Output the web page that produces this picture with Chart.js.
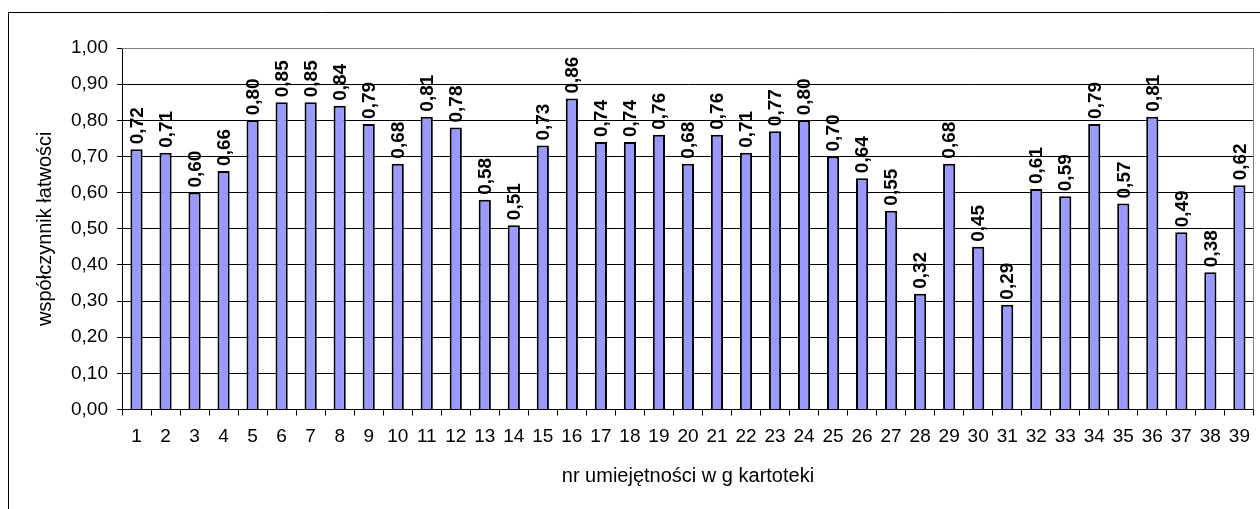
<!DOCTYPE html>
<html>
<head>
<meta charset="utf-8">
<script src="https://cdn.jsdelivr.net/npm/chart.js@4/dist/chart.umd.min.js"></script>
<style>
  html, body { margin: 0; padding: 0; background: #fff; }
  #wrap { width: 1260px; height: 509px; position: relative; }
</style>
</head>
<body>
<div id="wrap"><canvas id="chart" width="1260" height="509"></canvas></div>
<script>
// umiejetnosci wg kartoteki
const categories = ['1','2','3','4','5','6','7','8','9','10','11','12','13','14','15','16','17','18','19','20',
  '21','22','23','24','25','26','27','28','29','30','31','32','33','34','35','36','37','38','39'];
const values = [0.72, 0.71, 0.60, 0.66, 0.80, 0.85, 0.85, 0.84, 0.79, 0.68, 0.81, 0.78, 0.58, 0.51, 0.73,
  0.86, 0.74, 0.74, 0.76, 0.68, 0.76, 0.71, 0.77, 0.80, 0.70, 0.64, 0.55, 0.32, 0.68, 0.45, 0.29, 0.61,
  0.59, 0.79, 0.57, 0.81, 0.49, 0.38, 0.62];
const yTicks = [0, 0.1, 0.2, 0.3, 0.4, 0.5, 0.6, 0.7, 0.8, 0.9, 1.0];

const fmt = v => v.toFixed(2).replace('.', ',');
const FONT = '"Liberation Sans", Arial, sans-serif';

// white background + outer frame
const framePlugin = {
  id: 'frame',
  beforeDraw(chart) {
    const ctx = chart.ctx;
    ctx.save();
    ctx.fillStyle = '#fff';
    ctx.fillRect(0, 0, chart.width, chart.height);
    ctx.strokeStyle = '#000';
    ctx.lineWidth = 1;
    ctx.beginPath();
    ctx.moveTo(8.5, chart.height + 2);
    ctx.lineTo(8.5, 12.5);
    ctx.lineTo(chart.width + 2, 12.5);
    ctx.stroke();
    ctx.restore();
  },
  afterDraw(chart) {
    const a = chart.chartArea;
    const ctx = chart.ctx;
    ctx.save();
    ctx.strokeStyle = '#808080';
    ctx.lineWidth = 1;
    ctx.beginPath();
    ctx.moveTo(a.left, Math.round(a.top) + 0.5);
    ctx.lineTo(Math.round(a.right) - 0.5, Math.round(a.top) + 0.5);
    ctx.lineTo(Math.round(a.right) - 0.5, a.bottom);
    ctx.stroke();
    ctx.restore();
  }
};

// rotated value labels above bars
const labelPlugin = {
  id: 'barLabels',
  afterDatasetsDraw(chart) {
    const ctx = chart.ctx;
    const meta = chart.getDatasetMeta(0);
    ctx.save();
    ctx.font = 'bold 19px ' + FONT;
    ctx.fillStyle = '#000';
    ctx.textAlign = 'left';
    ctx.textBaseline = 'middle';
    meta.data.forEach((bar, i) => {
      ctx.save();
      ctx.translate(bar.x + 1, bar.y - 5);
      ctx.rotate(-Math.PI / 2);
      ctx.fillText(fmt(values[i]), 0, 0);
      ctx.restore();
    });
    ctx.restore();
  }
};

new Chart(document.getElementById('chart'), {
  type: 'bar',
  data: {
    labels: categories,
    datasets: [{
      data: values,
      backgroundColor: '#9999FF',
      borderColor: '#000',
      borderWidth: 2,
      barPercentage: 0.42,
      categoryPercentage: 1.0
    }]
  },
  options: {
    responsive: false,
    animation: false,
    layout: { padding: { left: 0, right: 4, top: 48, bottom: 0 } },
    plugins: { legend: { display: false }, tooltip: { enabled: false } },
    scales: {
      x: {
        grid: { display: true, drawOnChartArea: false, drawTicks: true, tickLength: 6, color: '#000', offset: true },
        border: { display: true, color: '#000', width: 1 },
        ticks: { color: '#000', font: { family: FONT, size: 19 }, padding: 10, maxRotation: 0, autoSkip: false },
        title: { display: true, text: 'nr umiejętności w g kartoteki', color: '#000',
          font: { family: FONT, size: 20 }, padding: { top: 0, bottom: 21 } },
        afterFit(scale) { scale.height = 99.5; }
      },
      y: {
        min: 0, max: 1,
        afterBuildTicks(scale) { scale.ticks = yTicks.map(v => ({ value: v })); },
        grid: { color: '#000', lineWidth: 1, tickLength: 5, drawTicks: true },
        border: { display: true, color: '#000', width: 1 },
        ticks: { color: '#000', font: { family: FONT, size: 19 }, padding: 9,
          callback: v => fmt(v) },
        title: { display: true, text: 'współczynnik łatwości', color: '#000',
          font: { family: FONT, size: 20 }, padding: { top: 33, bottom: 0 } },
        afterFit(scale) { scale.width = 122; }
      }
    }
  },
  plugins: [framePlugin, labelPlugin]
});
</script>
</body>
</html>
